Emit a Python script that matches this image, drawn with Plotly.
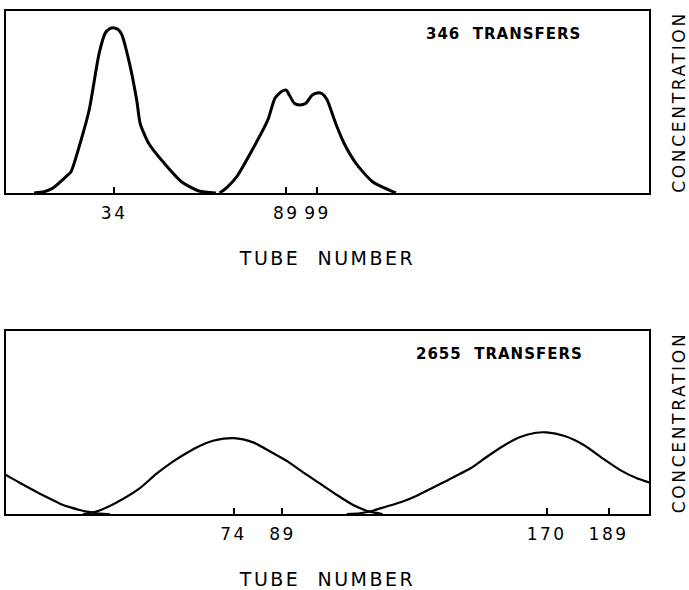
import plotly.graph_objects as go

# ---- data: countercurrent distribution profiles ----
# Upper panel, 346 transfers
top_a_tube = [8.4, 11.6, 14.3, 18.6, 20.2, 23.4, 26.0, 29.2, 31.1, 32.5, 34, 35.3, 36.4, 38.4, 41.2, 42.3, 45.0, 50.0, 55.5, 61.1, 66.5]
top_a_conc = [0, 0.007, 0.026, 0.09, 0.117, 0.29, 0.456, 0.768, 0.877, 0.902, 0.907, 0.898, 0.872, 0.749, 0.511, 0.383, 0.273, 0.163, 0.062, 0.011, 0]
top_b_tube = [67.7, 70, 73.2, 78.7, 83.1, 85.4, 87.5, 89, 90.0, 91.6, 93.2, 95.3, 97.3, 99, 100.5, 102.1, 104.8, 107.5, 111.3, 116.6, 124.1]
top_b_conc = [0, 0.03, 0.09, 0.254, 0.40, 0.52, 0.558, 0.565, 0.538, 0.493, 0.484, 0.493, 0.538, 0.55, 0.545, 0.511, 0.383, 0.273, 0.163, 0.062, 0]

# Lower panel, 2655 transfers
bot_a_tube = [0, 4.2, 8, 12.5, 16.5, 20.6, 24, 26.8, 29.5, 31.9, 34, 36.0]
bot_a_conc = [0.26, 0.213, 0.175, 0.131, 0.094, 0.058, 0.036, 0.022, 0.012, 0.004, 0.001, 0]
bot_b_tube = [27.8, 31.9, 38.0, 45.2, 50.3, 55.4, 59.5, 63.6, 67.7, 71, 74, 77, 80.2, 85.5, 90.7, 95.7, 100.7, 105.7, 110.7, 115.7, 119.7]
bot_b_conc = [0, 0.013, 0.062, 0.14, 0.219, 0.286, 0.332, 0.372, 0.40, 0.412, 0.415, 0.408, 0.39, 0.339, 0.286, 0.223, 0.164, 0.104, 0.049, 0.013, 0]
bot_c_tube = [108.7, 112.7, 116.7, 120.7, 125.7, 130.7, 135.7, 139.7, 141.7, 146.7, 151.7, 156.7, 161.7, 166.7, 170, 175.5, 181.4, 187.2, 192.6, 197.7, 201.3, 204]
bot_c_conc = [0, 0.004, 0.018, 0.04, 0.067, 0.104, 0.149, 0.185, 0.204, 0.25, 0.313, 0.372, 0.419, 0.444, 0.446, 0.426, 0.377, 0.304, 0.24, 0.195, 0.173, 0.155]

top_ticks = [34, 89, 99]
bot_ticks = [74, 89, 170, 189]
top_label = "346 TRANSFERS"
bot_label = "2655 TRANSFERS"
x_title = "TUBE NUMBER"
y_title = "CONCENTRATION"

FONT = "DejaVu Sans"


def spaced(text, px):
    return f'<span style="letter-spacing:{px}px">{text}</span>'


fig = go.Figure()

for xs, ys, ax, w in [
    (top_a_tube, top_a_conc, "1", 3),
    (top_b_tube, top_b_conc, "1", 3),
    (bot_a_tube, bot_a_conc, "2", 2.2),
    (bot_b_tube, bot_b_conc, "2", 2.2),
    (bot_c_tube, bot_c_conc, "2", 2.2),
]:
    fig.add_trace(go.Scatter(
        x=xs, y=ys, mode="lines",
        line=dict(color="black", width=w, shape="spline", smoothing=0.6),
        xaxis="x" if ax == "1" else "x2",
        yaxis="y" if ax == "1" else "y2",
        showlegend=False, hoverinfo="skip",
    ))

xcommon = dict(
    showline=True, mirror=True, linewidth=2, linecolor="black",
    showgrid=False, zeroline=False,
    ticks="inside", ticklen=6, tickwidth=1.5, tickcolor="black",
    tickmode="array", ticklabelstandoff=4,
    tickfont=dict(family=FONT, size=17, color="black"),
)
ycommon = dict(
    showline=True, mirror=True, linewidth=2, linecolor="black",
    showgrid=False, zeroline=False, showticklabels=False, ticks="",
    range=[0, 1], side="right", automargin=False,
)
xtitle = dict(text=spaced(x_title.replace(" ", "  "), 2.5),
              font=dict(family=FONT, size=19, color="black"), standoff=29)
ytitle = dict(text=spaced(y_title, 2.7),
              font=dict(family=FONT, size=17, color="black"), standoff=27)

fig.update_layout(
    width=689, height=590,
    margin=dict(l=6, r=40, t=11, b=76),
    paper_bgcolor="white", plot_bgcolor="white",
    xaxis=dict(**xcommon, domain=[0, 1], range=[-0.59, 205.0], anchor="y",
               tickvals=top_ticks, ticktext=[spaced(str(t), 2.5) for t in top_ticks],
               title=xtitle, automargin=False),
    yaxis=dict(**ycommon, domain=[0.6382, 1], anchor="x", title=ytitle),
    xaxis2=dict(**xcommon, domain=[0, 1], range=[4.23, 201.4], anchor="y2",
                tickvals=bot_ticks, ticktext=[spaced(str(t), 2.5) for t in bot_ticks],
                title=xtitle, automargin=False),
    yaxis2=dict(**ycommon, domain=[0, 0.3638], anchor="x2", title=ytitle),
    annotations=[
        dict(text=spaced(top_label.replace(" ", "  "), 1), xref="x domain", yref="y domain",
             x=0.897, y=0.874, xanchor="right", yanchor="middle", showarrow=False,
             font=dict(family=FONT, size=15, color="black", weight="bold")),
        dict(text=spaced(bot_label.replace(" ", "  "), 1), xref="x2 domain", yref="y2 domain",
             x=0.9005, y=0.874, xanchor="right", yanchor="middle", showarrow=False,
             font=dict(family=FONT, size=15, color="black", weight="bold")),
    ],
)

fig.write_html("out.html")
